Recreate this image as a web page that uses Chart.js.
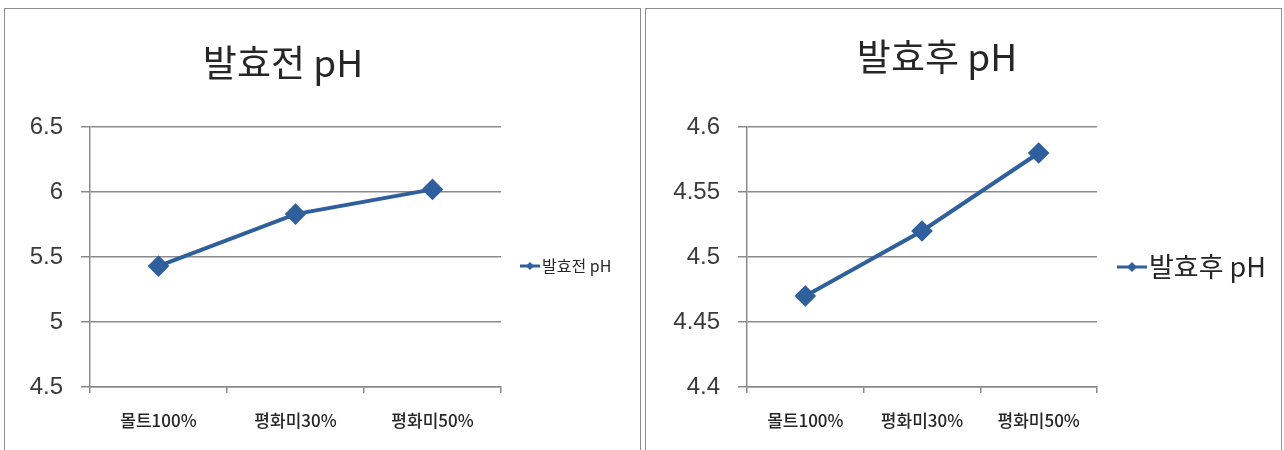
<!DOCTYPE html>
<html lang="ko">
<head>
<meta charset="utf-8">
<title>발효 전후 pH</title>
<script src="https://cdn.jsdelivr.net/npm/chart.js@4"></script>
<style>
  body { margin: 0; background: #fff; }
  .page { position: relative; width: 1284px; height: 450px; overflow: hidden; }
  .panel { position: absolute; top: 8px; height: 460px; border: 1px solid #8e8e8e; }
  canvas { position: absolute; top: 0; }
</style>
</head>
<body>
<div class="page">
  <div class="panel" style="left:4px; width:635px;"></div>
  <div class="panel" style="left:645px; width:635px;"></div>
  <canvas id="beforeChart" width="642" height="450" style="left:0"></canvas>
  <canvas id="afterChart" width="642" height="450" style="left:642px"></canvas>
</div>
<script>
// samples
const categories = ['몰트100%', '평화미30%', '평화미50%'];
const phBefore = [5.43, 5.83, 6.02];
const phAfter = [4.47, 4.52, 4.58];

// y axis ranges: [min, max, step]
const beforeAxis = [4.5, 6.5, 0.5];
const afterAxis = [4.4, 4.6, 0.05];

const lineBlue = '#30609c';
const gridGray = '#8a8a8a';

// title + legend are drawn by hand so they sit where the old sheet had them
const panelText = {
  id: 'panelText',
  afterDraw(chart, args, opts) {
    const ctx = chart.ctx;
    const ds = chart.data.datasets[0];
    ctx.save();
    ctx.fillStyle = '#262626';
    ctx.textBaseline = 'middle';

    ctx.font = opts.titleSize + 'px "Noto Sans CJK KR", sans-serif';
    ctx.textAlign = 'center';
    ctx.fillText(opts.title, opts.titleX, opts.titleY);

    // legend swatch: short line with a diamond in the middle
    const lx = opts.legendX, ly = opts.legendY, len = opts.legendLine;
    ctx.strokeStyle = ds.borderColor;
    ctx.lineWidth = 3;
    ctx.beginPath();
    ctx.moveTo(lx, ly);
    ctx.lineTo(lx + len, ly);
    ctx.stroke();
    const cx = lx + len / 2, r = opts.legendDot;
    ctx.fillStyle = ds.borderColor;
    ctx.beginPath();
    ctx.moveTo(cx, ly - r);
    ctx.lineTo(cx + r, ly);
    ctx.lineTo(cx, ly + r);
    ctx.lineTo(cx - r, ly);
    ctx.closePath();
    ctx.fill();

    ctx.fillStyle = '#262626';
    ctx.textAlign = 'left';
    ctx.font = opts.legendSize + 'px "Noto Sans CJK KR", sans-serif';
    ctx.fillText(ds.label, lx + len + 2, ly);
    ctx.restore();
  }
};

function makeChart(id, label, values, axis, box, text) {
  const ctx = document.getElementById(id).getContext('2d');
  return new Chart(ctx, {
    type: 'line',
    data: {
      labels: categories,
      datasets: [{
        label: label,
        data: values,
        borderColor: lineBlue,
        backgroundColor: lineBlue,
        borderWidth: 4,
        pointStyle: 'rectRot',
        pointRadius: 8,
        pointHoverRadius: 8,
        tension: 0
      }]
    },
    options: {
      responsive: false,
      animation: false,
      layout: { padding: { top: 127, right: box.right, bottom: 0, left: 0 } },
      plugins: {
        legend: { display: false },
        title: { display: false },
        tooltip: { enabled: false },
        panelText: text
      },
      scales: {
        x: {
          offset: true,
          grid: { offset: true, drawOnChartArea: false, tickLength: 6, color: gridGray, lineWidth: 1.5 },
          border: { color: gridGray, width: 1.5 },
          ticks: { color: '#262626', padding: 17, font: { family: '"Noto Sans CJK KR", sans-serif', size: 17, weight: '500' } },
          afterFit: s => { s.height = 63; }
        },
        y: {
          min: axis[0],
          max: axis[1],
          grid: { color: gridGray, lineWidth: 1.5, tickLength: 9 },
          border: { color: gridGray, width: 1.5 },
          ticks: {
            stepSize: axis[2],
            color: '#3a3a3a',
            padding: 18,
            font: { family: '"Liberation Sans", Arial, sans-serif', size: 24 },
            callback: v => String(+v.toFixed(2))
          },
          afterFit: s => { s.width = box.left; }
        }
      }
    },
    plugins: [panelText]
  });
}

makeChart('beforeChart', '발효전 pH', phBefore, beforeAxis,
  { left: 90, right: 141 },
  { title: '발효전 pH', titleX: 283, titleY: 63, titleSize: 37,
    legendX: 520, legendY: 266, legendLine: 20, legendDot: 4, legendSize: 16 });

makeChart('afterChart', '발효후 pH', phAfter, afterAxis,
  { left: 105, right: 187 },
  { title: '발효후 pH', titleX: 295, titleY: 57, titleSize: 37,
    legendX: 475, legendY: 267, legendLine: 30, legendDot: 5, legendSize: 27 });
</script>
</body>
</html>
